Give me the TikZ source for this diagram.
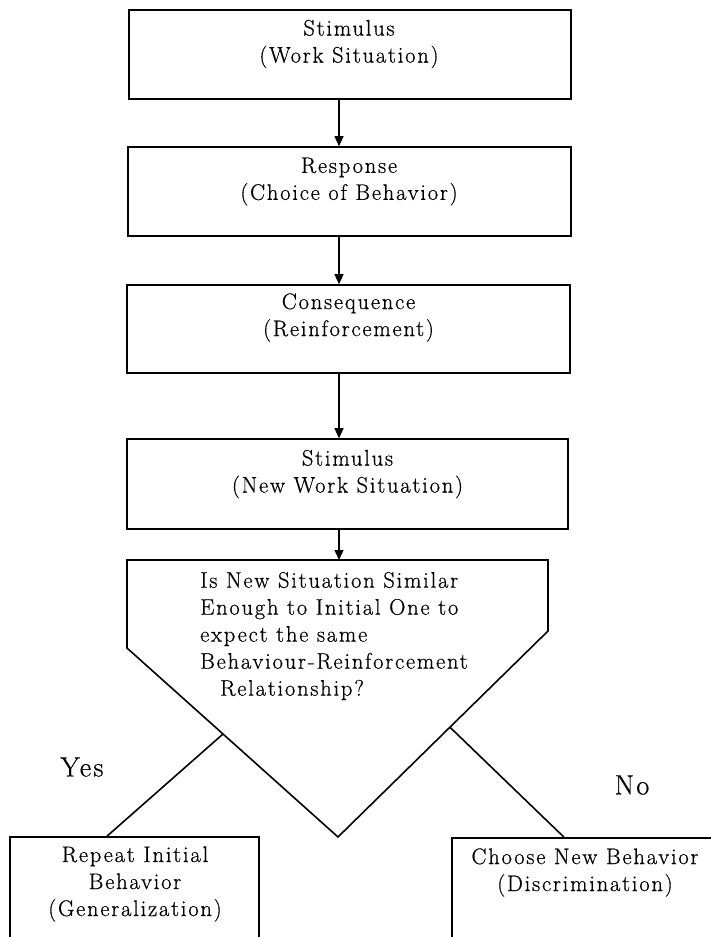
\documentclass[tikz,border=0pt]{standalone}
\usepackage{fontspec}
\setmainfont{Latin Modern Roman}[LetterSpace=8,FakeBold=0.6]
\usetikzlibrary{arrows.meta,calc}
\begin{document}
\begin{tikzpicture}[x=1pt,y=-1pt,
  frame/.style={draw, line width=1.6pt, rectangle, inner sep=0pt},
  label/.style={font=\fontsize{22.5}{27}\selectfont, align=center, inner sep=0pt},
  answer/.style={font=\fontsize{28}{30}\selectfont, inner sep=0pt},
  flow/.style={line width=1.3pt, -{Triangle[length=10pt,width=9pt]}},
  branch/.style={line width=1.6pt, line join=miter},
]
\useasboundingbox (0,0) rectangle (711,937);
\clip (0,0) rectangle (711,937);
\fill[white] (0,0) rectangle (711,937);

% process boxes
\node[frame, minimum width=442pt, minimum height=89pt] (b1) at (350,54.5) {};
\node[frame, minimum width=443pt, minimum height=89pt] (b2) at (349.5,191.5) {};
\node[frame, minimum width=443pt, minimum height=88pt] (b3) at (348.5,329) {};
\node[frame, minimum width=441pt, minimum height=90pt] (b4) at (347.5,484) {};

% outcome boxes (run off the lower edge)
\node[frame, minimum width=249pt, minimum height=123pt] (lb) at (134.5,898.5) {};
\node[frame, minimum width=278pt, minimum height=122pt] (rb) at (591,899) {};

% decision shape
\coordinate (q1) at (127,560);
\coordinate (q2) at (548,560);
\coordinate (q3) at (548,631);
\coordinate (qa) at (338,837);
\coordinate (q5) at (127,648);
\draw[branch] (q1) -- (q2) -- (q3) -- (qa) -- (q5) -- cycle;
\coordinate (jl) at ($(q5)!0.455!(qa)$);
\coordinate (jr) at ($(q3)!0.467!(qa)$);

% vertical flow
\coordinate (spine) at (339,0);
\draw[flow] (b1.south -| spine) -- (b2.north -| spine);
\draw[flow] (b2.south -| spine) -- (b3.north -| spine);
\draw[flow] (b3.south -| spine) -- (b4.north -| spine);
\draw[flow] (b4.south -| spine) -- (q1 -| spine);

% branches
\coordinate (yfoot) at (107,0);
\coordinate (nfoot) at (564,0);
\draw[branch] (jl) -- (lb.north -| yfoot);
\draw[branch] (jr) -- (rb.north -| nfoot);

% texts
\node[label] (t1) at (349,44) {Stimulus\\(Work Situation)};
\node[label] (t2) at (349,181.5) {Response\\(Choice of Behavior)};
\node[label] (t3) at (348.5,317.5) {Consequence\\(Reinforcement)};
\node[label] (t4) at (347.5,474) {Stimulus\\(New Work Situation)};
\node[label, align=left, anchor=west] (tq) at (200,636)
  {Is New Situation Similar\\Enough to Initial One to\\expect the same\\Behaviour-Reinforcement\\\hspace*{20pt}Relationship?};
\node[label] (tl) at (135,884) {Repeat Initial\\Behavior\\(Generalization)};
\node[label] (tr) at (585,872.5) {Choose New Behavior\\(Discrimination)};
\node[answer] (yes) at (82,767) {Yes};
\node[answer] (no) at (632,785) {No};
\end{tikzpicture}
\end{document}
